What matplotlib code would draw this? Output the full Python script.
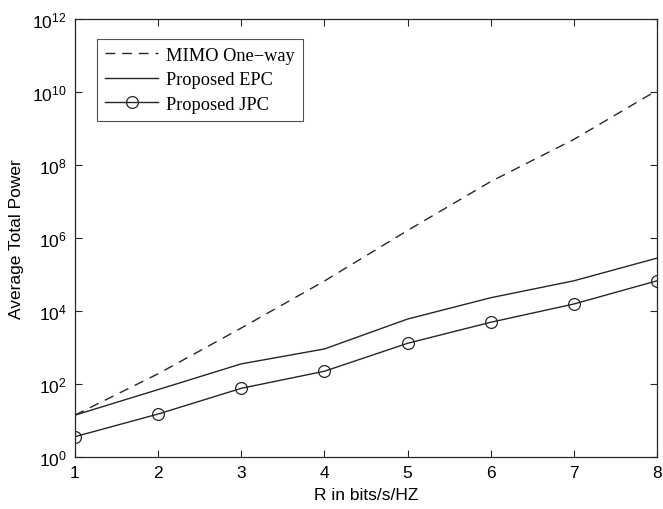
import matplotlib
matplotlib.use("Agg")
import matplotlib.pyplot as plt
from matplotlib.ticker import LogLocator, NullLocator

rate = [1, 2, 3, 4, 5, 6, 7, 8]
mimo_one_way = [14, 190, 3.4e3, 6.6e4, 1.6e6, 3.5e7, 5.0e8, 1.1e10]
proposed_epc = [14, 70, 355, 910, 6.0e3, 2.3e4, 6.7e4, 2.8e5]
proposed_jpc = [3.6, 15, 76, 223, 1.3e3, 4.9e3, 1.55e4, 6.7e4]

x_ticks = [1, 2, 3, 4, 5, 6, 7, 8]

ink = "#262626"

fig = plt.figure(figsize=(6.63, 5.10), dpi=100)
ax = fig.add_axes([0.113, 0.102, 0.878, 0.859])

ax.plot(rate, mimo_one_way, color=ink, lw=1.0, ls=(0, (7, 5)), label="MIMO One\u2212way")
ax.plot(rate, proposed_epc, color=ink, lw=1.0, label="Proposed EPC")
ax.plot(rate, proposed_jpc, color=ink, lw=1.0, marker="o", ms=8.5,
        mfc="none", mec=ink, mew=0.9, label="Proposed JPC")

ax.set_yscale("log")
ax.set_xlim(1, 8)
ax.set_ylim(1, 1e12)
ax.set_xticks(x_ticks)
ax.yaxis.set_major_locator(LogLocator(base=100, numticks=20))
ax.yaxis.set_minor_locator(NullLocator())

sans = ["Liberation Sans", "DejaVu Sans"]
serif = ["Liberation Serif", "DejaVu Serif"]

ax.tick_params(axis="both", which="major", direction="in", length=5, width=0.8,
               top=True, right=True, labelsize=12.5, color=ink, pad=6)
for lab in ax.get_xticklabels() + ax.get_yticklabels():
    lab.set_family(sans)

for sp in ax.spines.values():
    sp.set_linewidth(0.9)
    sp.set_color(ink)

ax.set_xlabel("R in bits/s/HZ", fontsize=12.5, family=sans, labelpad=5)
ax.set_ylabel("Average Total Power", fontsize=12.5, family=sans, labelpad=6)

leg = ax.legend(loc="upper left", bbox_to_anchor=(0.038, 0.955),
                prop={"family": serif, "size": 13.2}, frameon=True, fancybox=False,
                edgecolor=ink, handlelength=2.9, handletextpad=0.4,
                borderpad=0.45, labelspacing=0.4, borderaxespad=0)
leg.get_frame().set_linewidth(0.8)

fig.savefig("out.png", dpi=100)
